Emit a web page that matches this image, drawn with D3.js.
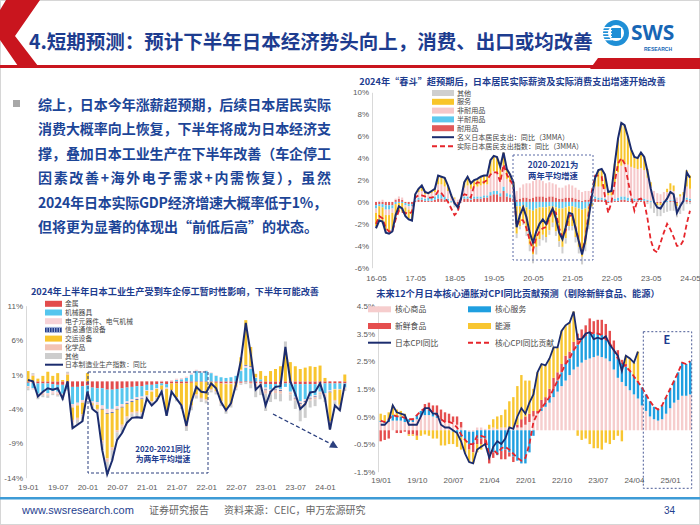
<!DOCTYPE html>
<html><head><meta charset="utf-8">
<script src="https://cdn.jsdelivr.net/npm/d3@7"></script>
<style>
body{margin:0;background:#fff;}
svg{display:block;font-family:"Noto Sans CJK SC","Noto Sans",sans-serif;}
</style></head><body>
<svg id="s" width="700" height="525"></svg>
<script>
// ---------------- DATA ----------------
const slideTitle = "4.短期预测：预计下半年日本经济势头向上，消费、出口或均改善";
const bodyLines = [
  "综上，日本今年涨薪超预期，后续日本居民实际",
  "消费大概率向上恢复，下半年将成为日本经济支",
  "撑，叠加日本工业生产在下半年改善（车企停工",
  "因素改善+海外电子需求+内需恢复），虽然",
  "2024年日本实际GDP经济增速大概率低于1%，",
  "但将更为显著的体现出“前低后高”的状态。"
];

// Chart A: consumption (monthly 2016-05 .. 2024-05)
const aTitle = "2024年“春斗”超预期后，日本居民实际薪资及实际消费支出增速开始改善";
const aTicksX = ["16-05","17-05","18-05","19-05","20-05","21-05","22-05","23-05","24-05"];
const aTicksY = [-6,-4,-2,0,2,4,6,8,10];
const aSeriesNames = ["耐用品","半耐用品","非耐用品","服务","其他"];
const aLegendNames = ["其他","服务","非耐用品","半耐用品","耐用品","名义日本居民支出：同比（3MMA）","实际日本居民支出指数：同比（3MMA）"];
const aNominal = [-2.4,-1.7,-1.8,-2.8,-2.9,-2.7,-1.2,-0.4,-0.6,-1.3,-1.6,-1.7, 0.7,1.2,1.5,0.9,0.8,1.0,1.2,2.4,2.3,2.2,1.5,0.6, -0.1,-0.5,0.3,1.8,2.3,1.7,2.0,2.1,2.3,2.4,2.4,3.8, 4.2,4.1,3.2,4.5,3.0,2.5,1.8, -2.3,-1.2,-0.5,-1.4,-2.8,-3.7,-2.7,-2.0,-1.6,-2.0,-1.2,-0.6,-1.5,-2.8,-3.4,-2.3,-1.0,-1.1,-2.4,-3.6,-4.8,-3.5,-1.5,0.5,2.2, 2.9,3.0,2.5,0.9,1.0,3.5,5.8,7.2,7.0,6.0,4.8,4.1, 4.0,4.5,4.1,2.8,1.2,0.0,-0.5,-0.6,-0.1,0.3,0.9,0.7, -1.0,-0.4,0.1,2.7,2.2];
const aReal = [-2.0,-1.3,-1.5,-2.4,-2.7,-2.7,-1.6,-0.8,-0.9,-1.0,-1.1,-0.9, 0.4,0.6,0.6,0.5,0.4,0.4,0.5,1.0,0.8,0.4,0.0,-0.6, -1.2,-0.9,0.4,0.7,0.6,0.4,1.5,1.8,1.7,1.8,2.0,2.5, 2.7,2.7,1.8,3.4,2.5,2.0,1.5, -2.2,-1.6,-1.7,-2.4,-3.5,-4.4,-3.2,-2.7,-2.4,-2.3,-1.4,-0.8,-1.0,-2.4,-3.2,-2.6,-1.3,-1.2,-2.3,-3.5,-4.6,-3.3,-1.0,1.0,2.4, 2.4,2.3,0.5,-1.0,0.0,1.8,3.5,4.0,3.5,2.0,0.5,-0.8, 0.2,0.3,0.0,-1.5,-3.5,-4.4,-4.6,-3.7,-2.8,-2.0,-2.5,-3.2, -4.0,-4.0,-3.5,-2.0,-0.8];
const aDurable = [-0.3,-0.2,-0.2,-0.3,-0.3,-0.3, 0.2,0.3,0.2,-0.1,-0.2,-0.2, 0.1,0.2,0.2,0.1,0.1,0.1,0.2,0.3,0.3,0.2,0.1,0.0, -0.2,-0.3,0.0,0.3,0.3,0.2,0.3,0.3,0.3,0.4,0.4,0.6, 0.7,0.7,0.5,1.0,0.5,0.4,0.3, 0.2,0.3,0.4,0.4,0.3,0.4,0.5,0.5,0.5,0.4,0.5,0.5,0.4,0.3,0.3,0.4,0.4,0.4,0.3,0.2,0.1,0.2,0.2,0.2,0.3, 0.2,0.2,0.1,-0.1,0.0,0.1,0.1,0.2,0.2,0.1,0.1,0.1, 0.1,0.1,0.1,0.1,0.0,0.0,-0.1,-0.1,0.0,0.0,0.1,0.1, -0.1,0.0,0.0,0.2,0.1];
const aSemi = [-0.3,-0.2,-0.3,-0.4,-0.4,-0.3, -0.2,-0.1,-0.1,-0.2,-0.2,-0.2, 0.1,0.2,0.2,0.2,0.3,0.3,0.3,0.4,0.4,0.3,0.2,0.1, -0.1,-0.1,0.0,0.2,0.2,0.2,0.2,0.2,0.2,0.2,0.2,0.3, 0.3,0.3,0.3,0.4,0.3,0.3,0.2, -0.4,-0.4,-0.3,-0.5,-0.7,-0.8,-0.6,-0.5,-0.5,-0.5,-0.4,-0.4,-0.5,-0.6,-0.6,-0.5,-0.4,-0.4,-0.5,-0.6,-0.7,-0.6,-0.4,-0.1,0.2, 0.2,0.2,0.2,0.1,0.1,0.2,0.3,0.3,0.3,0.3,0.2,0.2, 0.2,0.2,0.2,0.1,0.1,0.1,0.0,0.0,0.1,0.1,0.1,0.1, 0.0,0.0,0.1,0.2,0.2];
const aNondur = [-0.4,0.1,0.2,-0.5,-0.5,-0.4, 0.1,0.2,0.2,-0.2,-0.3,-0.3, 0.3,0.5,0.6,0.4,0.3,0.4,0.4,0.9,0.9,0.9,0.7,0.4, 0.3,0.2,0.3,0.8,1.0,0.8,0.9,0.9,1.0,1.0,1.0,1.6, 1.8,1.7,1.4,1.9,1.3,1.1,0.8, 0.8,1.0,1.2,1.3,1.4,1.5,1.6,1.5,1.4,1.3,1.3,1.2,1.2,1.0,1.0,1.1,1.2,1.1,1.0,0.9,0.8,0.8,0.8,0.8,0.9, 1.0,1.0,0.9,0.5,0.5,1.5,2.3,2.8,3.0,3.0,2.9,2.8, 2.7,2.8,2.6,2.0,1.3,0.9,0.8,0.7,0.8,0.8,0.9,0.8, 0.4,0.5,0.5,1.0,0.9];
const aServ = [-1.2,-1.2,-1.3,-1.4,-1.5,-1.5, -1.1,-0.7,-0.8,-0.7,-0.8,-0.9, 0.2,0.3,0.5,0.2,0.1,0.2,0.3,0.8,0.7,0.8,0.5,0.2, 0.1,-0.1,0.1,0.5,0.8,0.5,0.6,0.7,0.8,0.8,0.8,1.3, 1.4,1.4,1.0,1.2,0.9,0.7,0.5, -2.5,-1.8,-1.5,-2.2,-3.2,-4.0,-3.5,-2.9,-2.5,-2.7,-2.2,-1.5,-2.2,-3.0,-3.5,-2.8,-1.8,-1.8,-2.7,-3.5,-4.3,-3.3,-1.7,-0.3,0.8, 1.5,1.6,1.3,0.4,0.4,1.7,3.1,3.9,3.5,2.6,1.6,1.0, 1.0,1.4,1.2,0.8,0.4,0.0,-0.2,-0.2,0.0,0.3,0.6,0.5, -0.3,0.2,0.3,1.5,1.2];
const aOther = [-0.2,-0.2,-0.2,-0.2,-0.2,-0.2, -0.2,-0.1,-0.1,-0.1,-0.1,-0.1, 0,0,0,0,0,0,0,0,0,0,0,-0.1, -0.2,-0.2,-0.1,0,0,0,0,0,0,0,0,0, 0,0,0,0,0,0,0, -0.4,-0.3,-0.3,-0.4,-0.6,-0.8,-0.7,-0.6,-0.5,-0.5,-0.4,-0.4,-0.4,-0.5,-0.6,-0.5,-0.4,-0.4,-0.5,-0.6,-0.7,-0.6,-0.4,-0.1,0.0, 0,0,0,0,0,0,0,0,0,0,0,0, 0.0,0.0,0.0,-0.2,-0.6,-1.0,-1.0,-1.0,-1.0,-0.9,-0.8,-0.8, -1.0,-1.1,-0.8,-0.2,-0.2];

// Chart B: industrial production (monthly 2019-01 .. 2024-05)
const bTitle = "2024年上半年日本工业生产受到车企停工暂时性影响，下半年可能改善";
const bTicksX = ["19-01","19-07","20-01","20-07","21-01","21-07","22-01","22-07","23-01","23-07","24-01"];
const bTicksY = [-14,-9,-4,1,6,11];
const bSeriesNames = ["金属","机械器具","电子元器件、电气机械","信息通信设备","交运设备","化学品","其他"];
const bLineName = "日本制造业生产指数：同比";
const bLine = [0.2,0.0,-2.2,-1.5,-1.0,-1.2,-1.0,-2.5,0.0,-6.8,-6.3,-5.8, -1.5,-4.0,-4.6,-10.0,-13.5,-11.5,-8.5,-7.5,-6.0,-5.3,-5.2,-5.3, -2.5,-3.5,-2.8,-1.5,-5.0,-1.5,-2.5,-3.5,-6.5,-3.0,-0.8,-1.5, -1.6,-0.3,-1.0,-3.0,-4.2,-3.2,-0.5,3.0,8.5,4.0,-1.2,-0.5, -3.5,-1.5,-0.8,-0.7,5.0,0.0,-1.8,-4.0,-3.3,-1.6,-1.5,-0.3, -2.5,-7.0,-3.5,-4.2,-0.4];
const bMetal = [-0.2,-0.2,-0.3,-0.3,-0.3,-0.4,-0.5,-0.5,-0.4,-0.8,-0.8,-0.7, -0.6,-0.9,-1.0,-1.0,-1.2,-1.2,-1.1,-1.0,-0.9,-0.8,-0.7,-0.7, -0.5,-0.5,-0.4,-0.3,-0.4,-0.3,-0.3,-0.3,-0.3,-0.2,-0.1,-0.1, -0.1,-0.1,-0.2,-0.3,-0.3,-0.3,-0.3,-0.2,-0.1,-0.2,-0.3,-0.3, -0.4,-0.4,-0.4,-0.4,-0.3,-0.3,-0.4,-0.4,-0.4,-0.4,-0.4,-0.3, -0.3,-0.3,-0.3,-0.3,-0.3];
const bMach = [-0.5,-0.8,-1.5,-1.2,-1.4,-1.0,-1.0,-1.3,-0.8,-2.5,-2.3,-2.0, -1.5,-2.0,-2.0,-2.5,-2.8,-2.8,-2.5,-2.3,-2.0,-1.8,-1.6,-1.5, -0.8,-0.8,-0.6,-0.3,-0.5,0.0,0.2,0.3,0.5,1.0,1.5,1.3, 1.5,1.2,0.8,0.6,0.5,0.6,0.8,1.5,2.0,1.8,0.5,0.3, -0.5,-0.8,-0.6,-0.7,-0.5,-1.2,-1.8,-2.5,-2.2,-1.8,-1.6,-1.2, -1.4,-1.0,-0.8,-0.8,-0.6];
const bElec = [-0.1,-0.2,-0.3,-0.3,-0.2,-0.3,-0.3,-0.3,-0.2,-0.5,-0.4,-0.4, -0.2,-0.3,-0.4,-0.5,-0.6,-0.5,-0.4,-0.4,-0.3,-0.3,-0.3,-0.3, -0.1,-0.2,-0.1,0.1,-0.2,0.2,0.2,0.2,0.2,0.2,0.2,0.2, 0.1,0.1,0.1,0.0,-0.1,-0.1,0.0,0.2,0.3,0.3,0.1,0.0, -0.3,-0.2,-0.2,-0.2,0.0,-0.1,-0.2,-0.3,-0.3,-0.2,-0.2,-0.1, -0.2,-0.2,-0.1,-0.1,0.0];
const bIct = [0,0,0,0,0,0,0,0,0,0,0,0, 0,0,0,-0.1,-0.1,-0.1,-0.1,-0.1,-0.1,-0.1,-0.1,-0.1, 0,0,0,0,0,0,0,0,0,0,0,0, 0,0,0,0,0,0,0,0,0.1,0.1,0,0, -0.1,-0.1,-0.1,-0.1,0,0,-0.1,-0.1,-0.1,-0.1,-0.1,0, 0,-0.1,0,0,0];
const bTrans = [1.5,0.8,0.4,0.8,1.4,0.8,1.2,0.2,1.0,-1.8,-1.8,-1.7, 1.2,-0.2,-0.6,-4.5,-6.5,-5.0,-3.0,-2.5,-1.8,-1.5,-1.7,-1.9, -0.6,-1.4,-1.2,-0.6,-3.3,-1.0,-2.0,-3.2,-6.0,-3.3,-1.8,-2.3, -2.5,-1.0,-1.2,-2.6,-3.6,-2.8,-0.5,1.8,6.5,2.8,0.5,1.2, 0.8,1.5,1.8,2.2,4.5,2.8,2.2,1.8,2.0,2.2,2.1,2.3, 0.5,-4.2,-1.5,-2.2,1.0];
const bChem = [-0.2,0.2,-0.2,-0.2,-0.2,-0.1,-0.2,-0.3,0.2,-0.4,-0.3,-0.3, -0.2,-0.2,-0.2,-0.4,-0.5,-0.4,-0.3,-0.3,-0.2,-0.2,-0.2,-0.2, -0.1,-0.1,-0.1,-0.1,-0.1,-0.1,-0.2,-0.1,-0.3,-0.2,-0.2,-0.2, -0.2,-0.2,-0.2,-0.3,-0.3,-0.2,-0.2,-0.1,0.0,-0.2,-0.5,-0.4, -0.5,-0.4,-0.4,-0.4,0.0,-0.3,-0.3,-0.4,-0.4,-0.3,-0.3,-0.3, -0.3,-0.3,-0.2,-0.2,-0.2];
const bOther = [-0.3,0.2,-0.3,-0.3,-0.3,-0.2,-0.2,-0.3,0.2,-0.8,-0.7,-0.7, -0.2,-0.4,-0.4,-1.0,-1.8,-1.5,-1.1,-0.9,-0.7,-0.6,-0.6,-0.6, -0.4,-0.5,-0.4,-0.3,-0.5,-0.3,-0.4,-0.4,-0.6,-0.5,-0.4,-0.4, -0.4,-0.3,-0.3,-0.4,-0.4,-0.4,-0.3,-0.2,-0.3,-0.6,-1.5,-1.3, -2.5,-1.1,-0.9,-1.1,1.3,-0.9,-1.2,-2.1,-1.9,-1.0,-1.0,-0.7, -0.8,-0.9,-0.6,-0.6,-0.3];

// Chart C: CPI contributions (monthly 2019/01 .. 2025/06; actual to 2024/05)
const cTitle = "未来12个月日本核心通胀对CPI同比贡献预测（剔除新鲜食品、能源）";
const cTicksX = ["19/01","19/10","20/07","21/04","22/01","22/10","23/07","24/04","25/01"];
const cTicksY = [-1.5,-0.5,0.5,1.5,2.5,3.5,4.5];
const cSeriesNames = ["核心商品","核心服务","新鲜食品","能源"];
const cLineNames = ["日本CPI同比","核心CPI同比贡献"];
const cCPI = [0.2,0.2,0.35,0.9,0.65,0.6,0.55,0.2,0.2,0.2,0.5,0.8, 0.8,0.6,0.6,0.2,0.1,0.1,0.0,-0.1,-0.4,-0.85,-1.15,-1.2, -0.7,-0.6,-0.5,-1.0,-0.6,-0.4,-0.5,-0.3,0.1,0.05,0.5,0.8, 0.6,1.0,1.3,2.1,2.4,2.35,2.6,3.0,3.0,3.6,3.8,3.9, 4.3,3.3,3.3,3.5,3.55,3.3,3.35,3.3,3.4,3.1,2.9,2.7, 2.15,2.7,2.6,2.45,2.85];
const cCore = [0.35,0.3,0.4,0.55,0.5,0.5,0.45,0.4,0.4,0.55,0.7,0.8, 0.75,0.65,0.55,0.4,0.3,0.3,0.25,0.1,-0.15,-0.35,-0.5,-0.5, -0.2,-0.2,-0.25,-0.9,-0.7,-0.85,-0.65,-0.6,-0.7,-0.85,-1.0,-1.1, -1.0,-0.5,0.3,0.6,0.8,1.0,1.2,1.5,1.8,2.1,2.4,2.6, 2.9,3.1,3.3,3.45,3.55,3.5,3.5,3.45,3.3,3.15,2.9,2.6, 2.45,2.3,2.15,1.95,1.75,1.55,1.3,1.05,0.85,0.75,0.9,1.2, 1.5,1.8,2.1,2.45,2.4,2.5];
const cGoods = [0.3,0.25,0.3,0.35,0.35,0.35,0.3,0.3,0.3,0.4,0.5,0.55, 0.55,0.5,0.45,0.35,0.3,0.3,0.3,0.2,0.1,0.0,-0.05,-0.05, 0.1,0.1,0.05,0.05,0.1,0.05,0.1,0.1,0.1,0.1,0.1,0.1, 0.2,0.3,0.5,0.6,0.7,0.85,1.0,1.2,1.4,1.6,1.8,2.0, 2.2,2.3,2.45,2.55,2.6,2.65,2.7,2.65,2.6,2.5,2.2,1.9, 1.75,1.6,1.45,1.3,1.15,0.9,0.7,0.5,0.4,0.35,0.4,0.6, 0.8,1.0,1.1,1.25,1.25,1.3];
const cServ = [0.05,0.05,0.1,0.2,0.15,0.15,0.15,0.1,0.1,0.15,0.2,0.25, 0.2,0.15,0.1,0.05,0.0,0.0,-0.05,-0.1,-0.25,-0.35,-0.45,-0.45, -0.3,-0.3,-0.3,-0.95,-0.8,-0.9,-0.75,-0.7,-0.8,-0.95,-1.1,-1.2, -1.2,-0.8,-0.2,0.0,0.1,0.15,0.2,0.3,0.4,0.5,0.6,0.6, 0.7,0.8,0.85,0.9,0.95,0.85,0.8,0.8,0.7,0.65,0.7,0.7, 0.7,0.7,0.7,0.65,0.6,0.65,0.6,0.55,0.45,0.4,0.5,0.6, 0.7,0.8,1.0,1.2,1.15,1.2];
const cFresh = [-0.4,-0.35,-0.3,0.0,-0.1,-0.1,-0.05,-0.15,-0.15,-0.2,0.0,0.15, 0.25,0.25,0.35,0.35,0.35,0.3,0.2,0.3,0.2,0.0,-0.2,-0.3, -0.2,-0.2,-0.2,-0.25,-0.2,0.0,-0.3,-0.35,-0.15,-0.2,0.1,0.3, 0.3,0.3,0.2,0.1,0.3,0.2,0.3,0.4,0.3,0.3,0.3,0.25, 0.3,0.4,0.35,0.35,0.5,0.45,0.5,0.55,0.55,0.45,0.35,0.3, 0.1,0.1,0.05,0.0,0.05];
const cEnergy = [0.25,0.25,0.25,0.35,0.25,0.2,0.15,-0.05,-0.05,-0.15,-0.2,-0.15, -0.2,-0.3,-0.3,-0.55,-0.55,-0.5,-0.45,-0.5,-0.45,-0.5,-0.45,-0.4, -0.3,-0.2,-0.05,0.15,0.3,0.45,0.45,0.65,0.95,1.1,1.4,1.6, 1.3,1.2,0.8,1.4,1.3,1.15,1.1,1.1,0.9,1.2,1.1,1.05, 1.1,-0.2,-0.35,-0.3,-0.5,-0.65,-0.65,-0.7,-0.45,-0.5,-0.35,-0.2, -0.4,0.3,0.4,0.5,1.05];

const footer = {site:"www.swsresearch.com", kind:"证券研究报告", source:"资料来源：CEIC，申万宏源研究", page:"34"};

// ---------------- HELPERS ----------------
function monthLabels(y0, m0, n, sep){
  const out=[];
  for(let k=0;k<n;k++){const t=m0-1+k;const yy=y0+Math.floor(t/12);const mm=t%12+1;
    out.push(String(yy%100).padStart(2,'0')+sep+String(mm).padStart(2,'0'));}
  return out;
}
const aMonths = monthLabels(2016,5,aNominal.length,'-');
const bMonths = monthLabels(2019,1,bLine.length,'-');
const cMonths = monthLabels(2019,1,cCore.length,'/');

const svg = d3.select('#s');
const NAVY = '#1b2c6e', TITLE = '#1d3c8f', AXT = '#5a5a5a';
const NUMFONT = '"Liberation Sans", Arial, sans-serif';

function stackSegs(months, arrays, colors){
  const segs=[];
  months.forEach((m,i)=>{let pos=0,neg=0;
    arrays.forEach((arr,j)=>{const v=arr[i]; if(v===undefined||v===0) return;
      let a,b; if(v>0){a=pos;b=pos+v;pos=b;} else {a=neg;b=neg+v;neg=b;}
      segs.push({m, lo:Math.min(a,b), hi:Math.max(a,b), c:colors[j]});
    });
  });
  return segs;
}
function drawBars(g, x, y, segs, bw){
  g.selectAll(null).data(segs).join('rect')
   .attr('x', d=>x(d.m)-bw/2).attr('width', bw)
   .attr('y', d=>y(d.hi)).attr('height', d=>Math.max(0.3, y(d.lo)-y(d.hi)))
   .attr('fill', d=>d.c);
}
function yAxis(g, y, ticks, fmt, xPos, fs){
  const ax = d3.axisLeft(y).tickValues(ticks).tickFormat(fmt).tickSize(0).tickPadding(3);
  const gg = g.append('g').attr('transform',`translate(${xPos},0)`).call(ax);
  gg.attr('font-family',null).attr('font-size',null);
  gg.select('.domain').attr('stroke','#d9d9d9').attr('stroke-width',1);
  gg.selectAll('text').attr('font-size',fs).attr('fill',AXT).style('font-family',NUMFONT);
}
function xAxis(g, x, ticks, yPos, fs){
  const ax = d3.axisBottom(x).tickValues(ticks).tickSize(0).tickPadding(3);
  const gg = g.append('g').attr('transform',`translate(0,${yPos})`).call(ax);
  gg.attr('font-family',null).attr('font-size',null);
  gg.select('.domain').remove();
  gg.selectAll('text').attr('font-size',fs).attr('fill',AXT).style('font-family',NUMFONT);
}
function txt(g,x,y,s,opt={}){
  return g.append('text').attr('x',x).attr('y',y).text(s)
    .attr('font-size',opt.fs||8).attr('fill',opt.fill||'#333')
    .attr('font-weight',opt.fw||'normal').attr('text-anchor',opt.anchor||'start');
}

// ---------------- SLIDE FRAME ----------------
svg.append('rect').attr('x',0.5).attr('y',0.5).attr('width',699).attr('height',524).attr('fill','#fff').attr('stroke','#d6d6d6');
svg.append('polygon').attr('points','6,0 40,0 15,36 38,66 18,66 0,40 0,10').attr('fill','#c9151e');
svg.append('rect').attr('x',0).attr('y',65).attr('width',700).attr('height',3).attr('fill','#c9151e');
svg.append('polygon').attr('points','598,58 700,58 700,69 590,69').attr('fill','#c9151e');
txt(svg,29,49,slideTitle,{fs:19.5,fw:'bold',fill:TITLE});

// logo
const logo = svg.append('g');
logo.append('circle').attr('cx',616).attr('cy',33).attr('r',13).attr('fill','#1f8fd6');
logo.append('circle').attr('cx',616).attr('cy',33).attr('r',8).attr('fill','#fff');
logo.append('rect').attr('x',611).attr('y',28).attr('width',10).attr('height',10).attr('fill','#1f8fd6');
[27,30,33,36,39].forEach(yy=>logo.append('rect').attr('x',603).attr('y',yy).attr('width',9).attr('height',1.3).attr('fill','#fff'));
logo.append('text').attr('x',631).attr('y',40).text('SWS').attr('font-size',21).attr('font-weight','bold').attr('fill','#1766b5').style('font-family','"Open Sans", Arial, sans-serif');
logo.append('text').attr('x',644).attr('y',50.5).text('RESEARCH').attr('font-size',5).attr('font-weight','bold').attr('fill','#1766b5').style('font-family',NUMFONT);

// body text (justified lines like the reference)
svg.append('rect').attr('x',13).attr('y',100).attr('width',7).attr('height',7).attr('fill','#a8a8a8');
bodyLines.forEach((s,i)=>{
  const t = txt(svg,38,110+i*24.4,s,{fs:14,fw:'bold',fill:'#1c4597'});
  if(i<5) t.attr('textLength', i===4?289:293).attr('lengthAdjust','spacing');
});

// ---------------- CHART A ----------------
const gA = svg.append('g');
const xA = d3.scalePoint().domain(aMonths).range([376,690]);
const yA = d3.scaleLinear().domain([-6,10]).range([267.7,92.3]);
const aColors = ['#e05a5a','#5cc8ee','#f6c8ca','#f8c52a','#cfcfcf'];
drawBars(gA, xA, yA, stackSegs(aMonths,[aDurable,aSemi,aNondur,aServ,aOther],aColors), 2.0);
yAxis(gA, yA, aTicksY, d=>d+'%', 372, 8);
xAxis(gA, xA, aTicksX, 272, 8);
gA.append('path').datum(aReal).attr('fill','none').attr('stroke','#e6252b').attr('stroke-width',1.8).attr('stroke-dasharray','5,3')
  .attr('d', d3.line().x((d,i)=>xA(aMonths[i])).y(d=>yA(d)));
gA.append('path').datum(aNominal).attr('fill','none').attr('stroke',NAVY).attr('stroke-width',2)
  .attr('d', d3.line().x((d,i)=>xA(aMonths[i])).y(d=>yA(d)));
txt(gA,512.5,85,aTitle,{fs:9.2,fw:'bold',fill:TITLE,anchor:'middle'});
// legend A
const aLegColors = ['#cfcfcf','#f8c52a','#f6c8ca','#5cc8ee','#e05a5a'];
const aLegY = [93,101.8,110.6,119.4,128.2,137.2,146.2];
aLegendNames.forEach((nm,i)=>{
  const yy=aLegY[i];
  if(i<5) gA.append('rect').attr('x',432).attr('y',yy-3).attr('width',22).attr('height',6).attr('fill',aLegColors[i]);
  else gA.append('line').attr('x1',432).attr('x2',454).attr('y1',yy).attr('y2',yy)
        .attr('stroke', i===5?NAVY:'#e6252b').attr('stroke-width',2).attr('stroke-dasharray', i===5?null:'5,3');
  txt(gA,457,yy+2.6,nm,{fs:7.1,fill:'#444'});
});
gA.append('rect').attr('x',513).attr('y',155).attr('width',80).attr('height',105).attr('fill','none')
  .attr('stroke','#5b6aa6').attr('stroke-width',1).attr('stroke-dasharray','2,2');
txt(gA,553,168,'2020-2021为',{fs:8.3,fw:'bold',fill:TITLE,anchor:'middle'});
txt(gA,553,179,'两年平均增速',{fs:8.3,fw:'bold',fill:TITLE,anchor:'middle'});

// ---------------- CHART B ----------------
const gB = svg.append('g');
const xB = d3.scalePoint().domain(bMonths).range([28,344.8]);
const yB = d3.scaleLinear().domain([-14,11]).range([477.7,305.7]);
const bColors = ['#e24c4c','#55c6ee','#f7d3d7','#243e8c','#f8c52e','#f2c3b4','#cdcdcd'];
drawBars(gB, xB, yB, stackSegs(bMonths,[bMetal,bMach,bElec,bIct,bTrans,bChem,bOther],bColors), 3.0);
yAxis(gB, yB, bTicksY, d=>d+'%', 26, 8);
xAxis(gB, xB, bTicksX, 481, 8);
gB.append('path').datum(bLine).attr('fill','none').attr('stroke',NAVY).attr('stroke-width',2)
  .attr('d', d3.line().x((d,i)=>xB(bMonths[i])).y(d=>yB(d)));
txt(gB,175,294.8,bTitle,{fs:9.2,fw:'bold',fill:TITLE,anchor:'middle'});
const bLegY = [303.8,312.5,321.2,329.9,338.6,347.3,356,364.7];
bSeriesNames.concat([bLineName]).forEach((nm,i)=>{
  const yy=bLegY[i];
  if(i===3){
    gB.append('rect').attr('x',45).attr('y',yy-3).attr('width',17).attr('height',6).attr('fill','#9fb0d8');
    gB.append('line').attr('x1',45).attr('x2',62).attr('y1',yy).attr('y2',yy).attr('stroke','#243e8c').attr('stroke-width',4).attr('stroke-dasharray','1.5,1');
  } else if(i<7) gB.append('rect').attr('x',45).attr('y',yy-3).attr('width',17).attr('height',6).attr('fill',bColors[i]);
  else gB.append('line').attr('x1',45).attr('x2',63).attr('y1',yy).attr('y2',yy).attr('stroke',NAVY).attr('stroke-width',2);
  txt(gB,65,yy+2.5,nm,{fs:6.8,fill:'#444'});
});
gB.append('rect').attr('x',88).attr('y',372).attr('width',120).attr('height',101).attr('fill','none')
  .attr('stroke','#2b3f7e').attr('stroke-width',1).attr('stroke-dasharray','3,2');
txt(gB,163,451.5,'2020-2021同比',{fs:7.8,fw:'bold',fill:TITLE,anchor:'middle'});
txt(gB,163,462,'为两年平均增速',{fs:7.8,fw:'bold',fill:TITLE,anchor:'middle'});
gB.append('line').attr('x1',273).attr('y1',414).attr('x2',332).attr('y2',444.5).attr('stroke','#2b3f7e').attr('stroke-width',1.3).attr('stroke-dasharray','4,2.5');
gB.append('polygon').attr('points','338,448 329,447.5 333,440.5').attr('fill','#2b3f7e');

// ---------------- CHART C ----------------
const gC = svg.append('g');
const xC = d3.scalePoint().domain(cMonths).range([380.7,690.2]);
const yC = d3.scaleLinear().domain([-1.5,4.5]).range([471.7,306]);
const cColors = ['#f6cdcd','#1f9fe0','#e54e4e','#f8c631'];
drawBars(gC, xC, yC, stackSegs(cMonths,[cGoods,cServ,cFresh,cEnergy],cColors), 2.4);
yAxis(gC, yC, cTicksY, d=>d.toFixed(1)+'%', 378, 8);
xAxis(gC, xC, cTicksX, 474, 8);
gC.append('path').datum(cCore).attr('fill','none').attr('stroke','#e6252b').attr('stroke-width',1.8).attr('stroke-dasharray','5,3')
  .attr('d', d3.line().x((d,i)=>xC(cMonths[i])).y(d=>yC(d)));
gC.append('path').datum(cCPI).attr('fill','none').attr('stroke',NAVY).attr('stroke-width',1.8)
  .attr('d', d3.line().x((d,i)=>xC(cMonths[i])).y(d=>yC(d)));
txt(gC,518,297,cTitle,{fs:9.2,fw:'bold',fill:TITLE,anchor:'middle'});
const cLeg = [
  {n:cSeriesNames[0],t:'bar',c:cColors[0],x:368,y:309.3},{n:cSeriesNames[1],t:'bar',c:cColors[1],x:468,y:309.3},
  {n:cSeriesNames[2],t:'bar',c:cColors[2],x:368,y:326},{n:cSeriesNames[3],t:'bar',c:cColors[3],x:468,y:326},
  {n:cLineNames[0],t:'line',c:NAVY,x:368,y:342.7},{n:cLineNames[1],t:'dash',c:'#e6252b',x:468,y:342.7}];
cLeg.forEach(l=>{
  if(l.t==='bar') gC.append('rect').attr('x',l.x).attr('y',l.y-3).attr('width',23).attr('height',6).attr('fill',l.c);
  else gC.append('line').attr('x1',l.x).attr('x2',l.x+23).attr('y1',l.y).attr('y2',l.y).attr('stroke',l.c).attr('stroke-width',2).attr('stroke-dasharray',l.t==='dash'?'5,3':null);
  txt(gC,l.x+27,l.y+3,l.n,{fs:7.8,fill:'#444'});
});
gC.append('rect').attr('x',643.3).attr('y',331.7).attr('width',48.4).attr('height',156.6).attr('fill','none')
  .attr('stroke','#4a5a96').attr('stroke-width',1).attr('stroke-dasharray','2,2');
txt(gC,667,344,'E',{fs:11,fw:'bold',fill:TITLE,anchor:'middle'});

// ---------------- FOOTER ----------------
svg.append('rect').attr('x',0).attr('y',497).attr('width',700).attr('height',2.5).attr('fill','#3d9bd6');
txt(svg,22,514,footer.site,{fs:11,fill:'#1f3f8f'}).style('font-family',NUMFONT);
txt(svg,149,514,footer.kind,{fs:10,fill:'#666'});
txt(svg,224,514,footer.source,{fs:10,fill:'#666'});
txt(svg,664,514,footer.page,{fs:10,fill:'#1f3f8f'}).style('font-family',NUMFONT);
</script>
</body></html>
